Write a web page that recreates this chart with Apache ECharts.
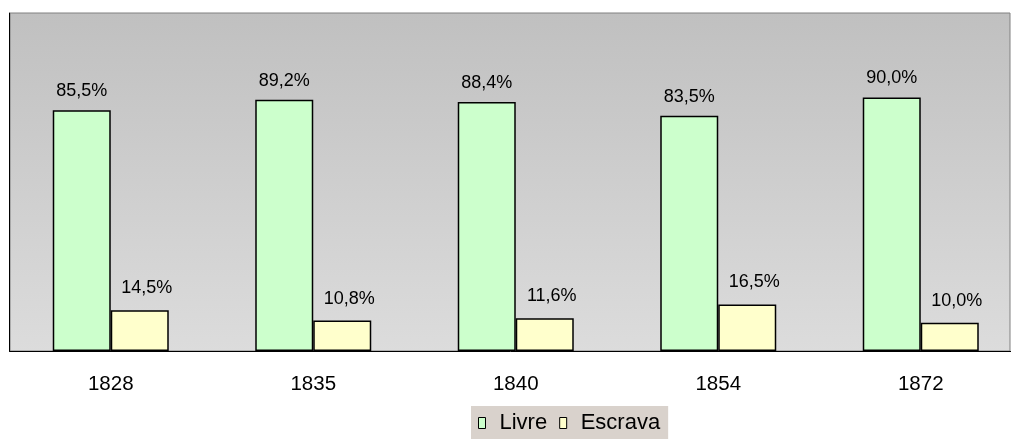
<!DOCTYPE html>
<html>
<head>
<meta charset="utf-8">
<script src="https://cdn.jsdelivr.net/npm/echarts@6/dist/echarts.min.js"></script>
<style>
  html, body { margin: 0; padding: 0; background: #fff; }
  #chart { width: 1011px; height: 439px; }
</style>
</head>
<body>
<div id="chart"></div>
<script>
const years = ['1828', '1835', '1840', '1854', '1872']
const livre = [85.5, 89.2, 88.4, 83.5, 90.0]
const escrava = [14.5, 10.8, 11.6, 16.5, 10.0]

const fmt = p => p.value.toFixed(1).replace('.', ',') + '%'
const font = 'Liberation Sans, Arial, sans-serif'

const chart = echarts.init(document.getElementById('chart'))
chart.setOption({
  animation: false,
  // plot area background (gray gradient like the original)
  graphic: [{
    type: 'rect',
    z: -10,
    shape: { x: 10, y: 13, width: 1000, height: 338 },
    style: {
      fill: new echarts.graphic.LinearGradient(0, 0, 0, 1, [
        { offset: 0, color: '#c0c0c0' },
        { offset: 1, color: '#dcdcdc' }
      ]),
      stroke: '#808080',
      lineWidth: 1
    }
  }],
  // the category bands run a bit past the right border in the original
  grid: { left: 9.5, width: 1012.5, top: 13, height: 338, outerBoundsMode: 'none' },
  legend: {
    top: 406,
    left: 471,
    backgroundColor: '#d9d2cc',
    padding: [6, 8, 5, 7],
    icon: 'rect',
    itemWidth: 7,
    itemHeight: 11,
    itemGap: 12,
    textStyle: { fontFamily: font, fontSize: 22, color: '#000', padding: [0, 0, 0, 9] },
    data: [
      { name: 'Livre', itemStyle: { borderColor: '#000', borderWidth: 1 } },
      { name: 'Escrava', itemStyle: { borderColor: '#000', borderWidth: 1 } }
    ]
  },
  xAxis: {
    type: 'category',
    data: years,
    axisLine: { lineStyle: { color: '#000', width: 1 } },
    axisTick: { length: 6, lineStyle: { color: '#000' } },
    axisLabel: { margin: 23, fontFamily: font, fontSize: 20.5, color: '#000' }
  },
  yAxis: {
    type: 'value',
    min: 0,
    max: 120,
    axisLine: { show: true, lineStyle: { color: '#000' } },
    axisLabel: { show: false },
    axisTick: { show: false },
    splitLine: { show: false }
  },
  series: [
    {
      name: 'Livre',
      type: 'bar',
      barWidth: 58,
      barGap: '0%',
      data: livre,
      itemStyle: { color: '#ccffcc', borderColor: '#000', borderWidth: 1.5 },
      label: {
        show: true,
        position: 'top',
        distance: 10,
        formatter: fmt,
        fontFamily: font,
        fontSize: 18,
        color: '#000'
      }
    },
    {
      name: 'Escrava',
      type: 'bar',
      barWidth: 58,
      data: escrava,
      itemStyle: { color: '#ffffcc', borderColor: '#000', borderWidth: 1.5 },
      label: {
        show: true,
        position: 'top',
        distance: 13,
        offset: [7, 0],
        formatter: fmt,
        fontFamily: font,
        fontSize: 18,
        color: '#000'
      }
    }
  ]
})
</script>
</body>
</html>
